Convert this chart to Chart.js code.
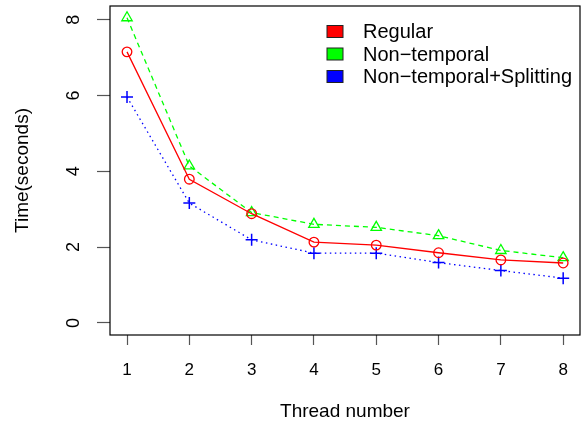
<!DOCTYPE html>
<html>
<head>
<meta charset="utf-8">
<script src="https://cdn.jsdelivr.net/npm/chart.js@4"></script>
<style>
  html, body { margin: 0; padding: 0; background: #fff; }
  #wrap { width: 584px; height: 427px; }
</style>
</head>
<body>
<div id="wrap"><canvas id="c" width="584" height="427"></canvas></div>
<script>
const threads = [1, 2, 3, 4, 5, 6, 7, 8];
const regular = [7.15, 3.79, 2.88, 2.13, 2.05, 1.85, 1.66, 1.58];
const nonTemporal = [8.05, 4.14, 2.91, 2.60, 2.52, 2.30, 1.91, 1.72];
const splitting = [5.96, 3.16, 2.19, 1.84, 1.84, 1.59, 1.38, 1.18];
const yTicks = [0, 2, 4, 6, 8];
const seriesNames = ['Regular', 'Non\u2212temporal', 'Non\u2212temporal+Splitting'];
const seriesColors = ['#ff0000', '#00ff00', '#0000ff'];

const FONT = '"Liberation Sans", Arial, Helvetica, sans-serif';

function pts(vals) { return threads.map((t, i) => ({ x: t, y: vals[i] })); }
function noPad(s) { s.paddingLeft = 0; s.paddingRight = 0; s.paddingTop = 0; s.paddingBottom = 0; }

const framePlugin = {
  id: 'frameLegend',
  afterDraw(chart) {
    const { ctx, chartArea: a } = chart;
    ctx.save();
    ctx.strokeStyle = '#000';
    ctx.lineWidth = 1.2;
    ctx.strokeRect(a.left, a.top, a.right - a.left, a.bottom - a.top);
    // legend
    ctx.font = '20px ' + FONT;
    ctx.textBaseline = 'middle';
    ctx.textAlign = 'left';
    const bx = 327, by0 = 31.5, dy = 22.5;
    seriesNames.forEach((name, i) => {
      const y = by0 + i * dy;
      ctx.fillStyle = seriesColors[i];
      ctx.fillRect(bx, y - 6, 16, 12);
      ctx.strokeStyle = '#222';
      ctx.lineWidth = 1;
      ctx.strokeRect(bx, y - 6, 16, 12);
      ctx.fillStyle = '#000';
      ctx.fillText(name, 363, y + 1);
    });
    ctx.restore();
  }
};

new Chart(document.getElementById('c'), {
  type: 'line',
  data: {
    datasets: [
      {
        label: seriesNames[0], data: pts(regular),
        borderColor: seriesColors[0], backgroundColor: 'transparent',
        borderWidth: 1.3, pointStyle: 'circle', pointRadius: 4.8,
        pointBorderWidth: 1.3, pointBackgroundColor: 'transparent', pointBorderColor: seriesColors[0]
      },
      {
        label: seriesNames[1], data: pts(nonTemporal),
        borderColor: seriesColors[1], backgroundColor: 'transparent',
        borderWidth: 1.3, borderDash: [5, 4], pointStyle: 'triangle', pointRadius: 6,
        pointBorderWidth: 1.3, pointBackgroundColor: 'transparent', pointBorderColor: seriesColors[1]
      },
      {
        label: seriesNames[2], data: pts(splitting),
        borderColor: seriesColors[2], backgroundColor: 'transparent',
        borderWidth: 1.3, borderDash: [1.5, 3.5], pointStyle: 'cross', pointRadius: 6,
        pointBorderWidth: 1.5, pointBackgroundColor: 'transparent', pointBorderColor: seriesColors[2]
      }
    ]
  },
  options: {
    responsive: false,
    animation: false,
    devicePixelRatio: 1,
    layout: { autoPadding: false, padding: { left: 0, top: 6, right: 4, bottom: 0 } },
    plugins: { legend: { display: false }, tooltip: { enabled: false } },
    elements: { line: { tension: 0 } },
    scales: {
      x: {
        type: 'linear', min: 0.727, max: 8.27,
        afterBuildTicks(s) { s.ticks = threads.map(v => ({ value: v })); },
        afterFit(s) { s.height = 92; noPad(s); },
        grid: { drawOnChartArea: false, drawTicks: true, tickLength: 10, tickColor: '#555', tickWidth: 1.2 },
        border: { display: false },
        ticks: { color: '#000', font: { family: FONT, size: 17 }, padding: 15, maxRotation: 0 },
        title: { display: true, text: 'Thread number', color: '#000', font: { family: FONT, size: 19 }, padding: { top: 0, bottom: 3.6 } }
      },
      y: {
        type: 'linear', min: -0.32, max: 8.36,
        afterBuildTicks(s) { s.ticks = yTicks.map(v => ({ value: v })); },
        afterFit(s) { s.width = 110; noPad(s); },
        grid: { drawOnChartArea: false, drawTicks: true, tickLength: 13, tickColor: '#555', tickWidth: 1.2 },
        border: { display: false },
        ticks: { color: '#000', font: { family: FONT, size: 18 }, padding: 18, minRotation: 90, maxRotation: 90, crossAlign: 'center' },
        title: { display: true, text: 'Time(seconds)', color: '#000', font: { family: FONT, size: 19 }, padding: { top: 11.2, bottom: 0 } }
      }
    }
  },
  plugins: [framePlugin]
});
</script>
</body>
</html>
